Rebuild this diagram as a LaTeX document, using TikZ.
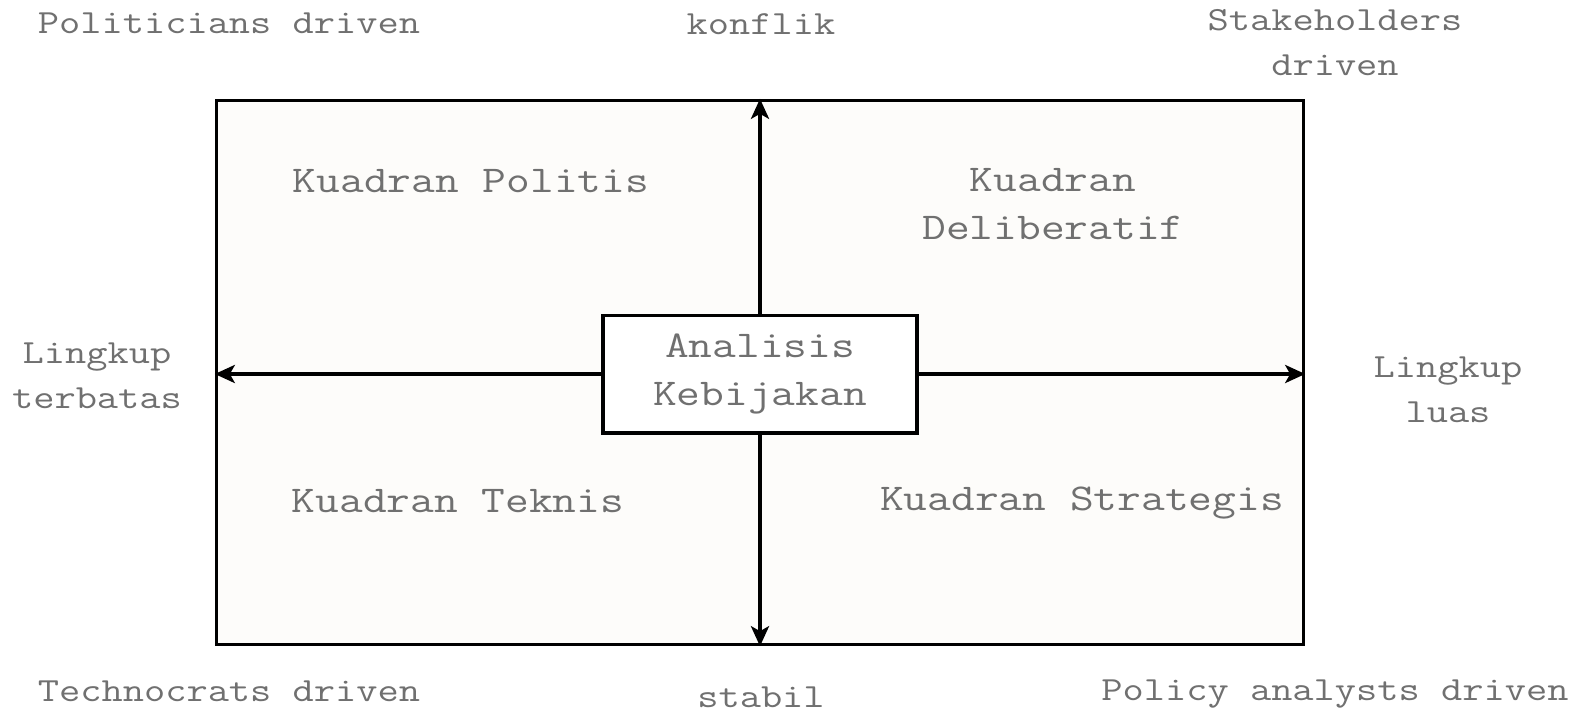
\documentclass[tikz,border=0pt]{standalone}
\usepackage{fontspec}
\setmonofont[FakeStretch=1.22]{Latin Modern Mono}
\usetikzlibrary{arrows.meta}
\definecolor{txtgray}{RGB}{112,112,112}
\definecolor{panel}{RGB}{253,252,250}
\begin{document}
\begin{tikzpicture}[x=0.5pt,y=-0.5pt,
  outer/.style={font=\ttfamily\fontsize{16.9}{22.1}\selectfont, text=txtgray, inner sep=0pt, align=center, anchor=base},
  inlbl/.style={font=\ttfamily\fontsize{18.9}{23.6}\selectfont, text=txtgray, inner sep=0pt, align=center, anchor=base},
  axis/.style={line width=2pt, -{Stealth[length=10pt,width=9pt,inset=2.5pt]}},
]
\useasboundingbox (0,0) rectangle (1576,713);
\fill[white] (0,0) rectangle (1576,713);
\node[draw, fill=panel, line width=1.7pt, inner sep=0pt, minimum width=543.5pt, minimum height=272pt] (frame) at (760,372.5) {};
\node[draw, fill=white, line width=1.7pt, inner sep=0pt, minimum width=157pt, minimum height=58.8pt] (center) at (760,374) {};
\node[inlbl] (ana) at (760,405) {Analisis\\Kebijakan};
\draw[axis] (center.north) -- (frame.north);
\draw[axis] (center.south) -- (frame.south);
\draw[axis] (center.west) -- (center.west -| frame.west);
\draw[axis] (center.east) -- (center.east -| frame.east);
% quadrant labels
\node[inlbl] (qpol) at (471,192) {Kuadran Politis};
\node[inlbl] (qdel) at (1053,239) {Kuadran\\Deliberatif};
\node[inlbl] (qtek) at (458,512) {Kuadran Teknis};
\node[inlbl] (qstr) at (1082,510) {Kuadran Strategis};
% outer labels
\node[outer] (pol) at (229,33) {Politicians driven};
\node[outer] (konf) at (761,34) {konflik};
\node[outer] (stk) at (1335,75) {Stakeholders\\driven};
\node[outer] (lt) at (97,408) {Lingkup\\terbatas};
\node[outer] (ll) at (1448,422) {Lingkup\\luas};
\node[outer] (tec) at (229,701) {Technocrats driven};
\node[outer] (stab) at (761,707) {stabil};
\node[outer] (pa) at (1335,700) {Policy analysts driven};
\end{tikzpicture}
\end{document}
